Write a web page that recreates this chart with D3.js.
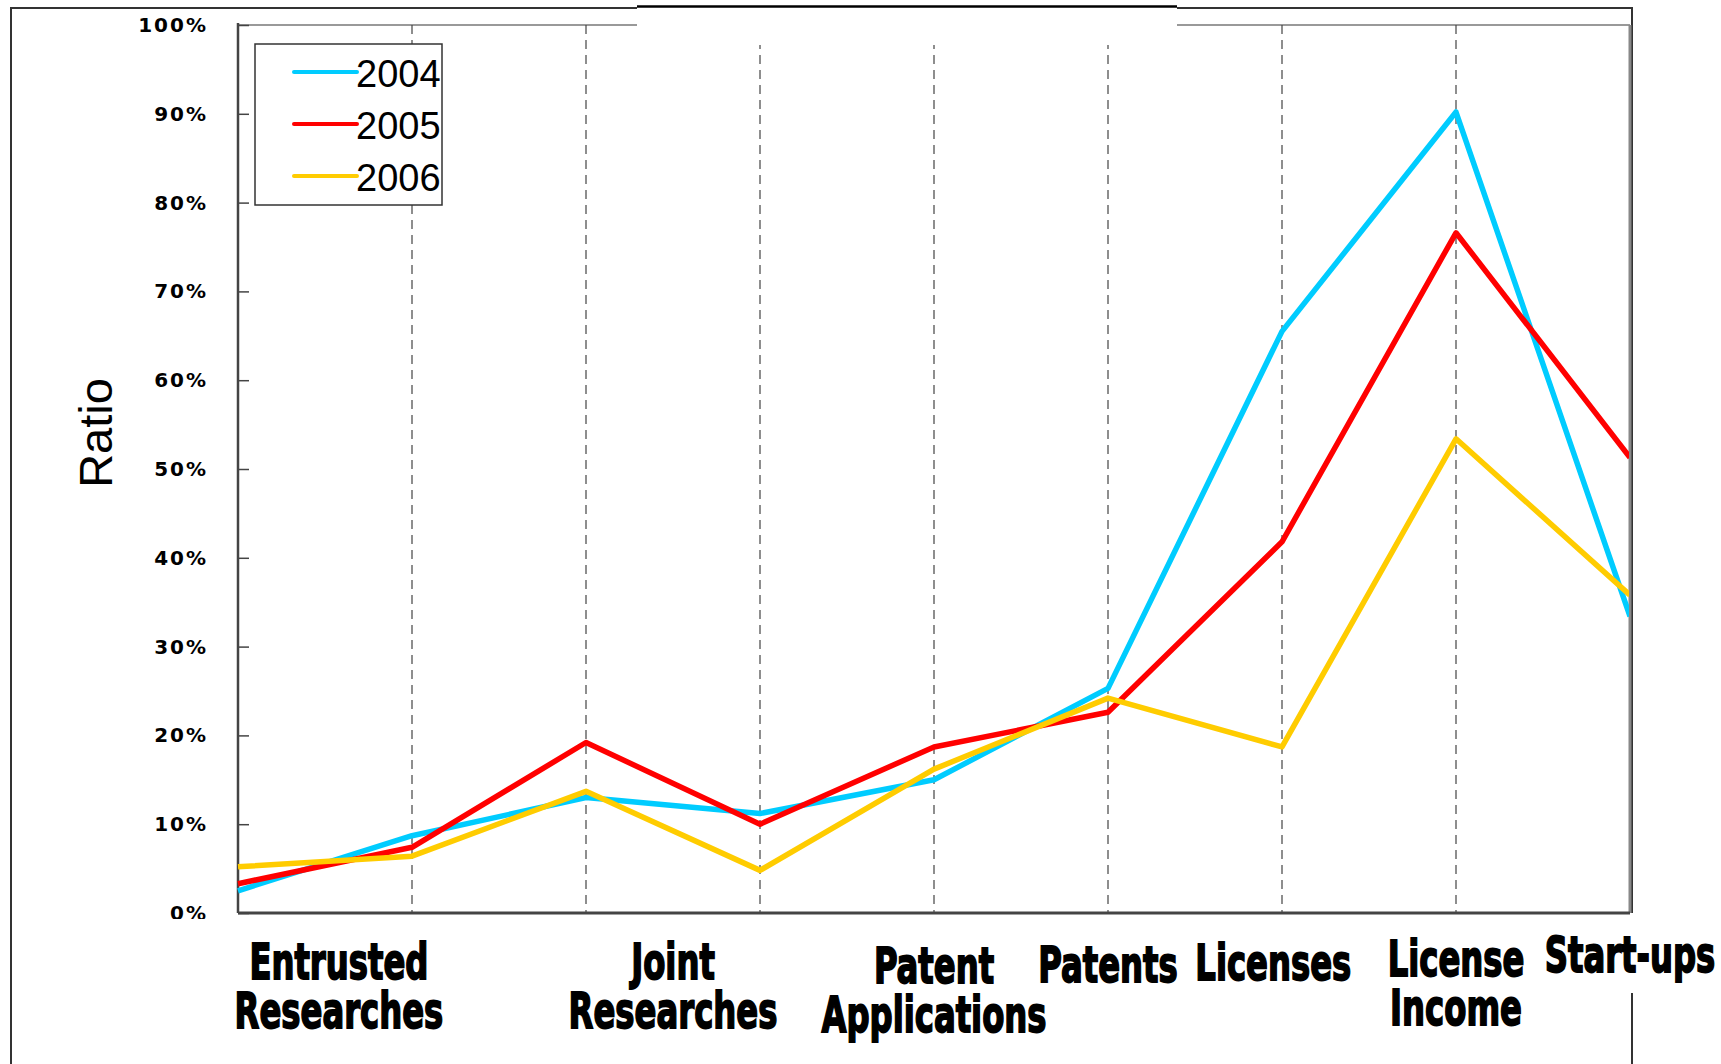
<!DOCTYPE html>
<html>
<head>
<meta charset="utf-8">
<script src="https://cdn.jsdelivr.net/npm/d3@7"></script>
<style>
  body { margin: 0; background: #fff; }
  svg { display: block; }
</style>
</head>
<body>
<svg></svg>
<script>
(function (d3) {
  'use strict';

  // categories under the x axis (two lines where the label wraps)
  var categories = [
    ["Entrusted", "Researches"],
    ["Joint", "Researches"],
    ["Patent", "Applications"],
    ["Patents"],
    ["Licenses"],
    ["License", "Income"],
    ["Start-ups"]
  ];
  // slot on the point scale where each label sits
  var labelSlot = [0.58, 2.5, 4, 5, 5.95, 7, 8];
  var labelDy = [0, 0, 4, 3, 1, -3, -7];

  var years = ["2004", "2005", "2006"];
  var colors = ["#00ccff", "#ff0000", "#ffcc00"];

  // ratio per point (9 points along the x axis)
  var v2004 = [0.025, 0.087, 0.130, 0.112, 0.150, 0.253, 0.655, 0.902, 0.334];
  var v2005 = [0.033, 0.074, 0.192, 0.100, 0.187, 0.226, 0.418, 0.766, 0.513];
  var v2006 = [0.052, 0.064, 0.137, 0.048, 0.162, 0.242, 0.187, 0.534, 0.358];
  var series = [v2004, v2005, v2006];

  var yTicks = [0, 0.1, 0.2, 0.3, 0.4, 0.5, 0.6, 0.7, 0.8, 0.9, 1];

  var width = 1721, height = 1064,
      left = 238, right = 1630, top = 25, bottom = 913;

  var svg = d3.select("svg")
    .attr("width", width)
    .attr("height", height);

  var x = d3.scaleLinear().domain([0, 8]).range([left, right]);
  var y = d3.scaleLinear().domain([0, 1]).range([bottom, top]);

  // outer frame
  svg.append("path")
    .attr("d", "M11,1064V8H1632V" + bottom + "M1632,993V1064")
    .attr("fill", "none")
    .attr("stroke", "#333")
    .attr("stroke-width", 2);

  // plot border top / right
  svg.append("line")
    .attr("x1", left).attr("x2", right).attr("y1", top).attr("y2", top)
    .attr("stroke", "#999").attr("stroke-width", 2);
  svg.append("line")
    .attr("x1", right).attr("x2", right).attr("y1", top).attr("y2", bottom)
    .attr("stroke", "#888").attr("stroke-width", 3);

  // dashed verticals
  svg.append("g").selectAll("line")
    .data(d3.range(1, 8))
    .enter().append("line")
      .attr("x1", function (d) { return x(d); })
      .attr("x2", function (d) { return x(d); })
      .attr("y1", top)
      .attr("y2", bottom)
      .attr("stroke", "#444")
      .attr("stroke-width", 1.2)
      .attr("stroke-dasharray", "9,6");

  // white patch at the top of the plot
  svg.append("rect")
    .attr("x", 637).attr("y", 7).attr("width", 540).attr("height", 38)
    .attr("fill", "#fff");
  svg.append("line")
    .attr("x1", 637).attr("x2", 1177).attr("y1", 6.5).attr("y2", 6.5)
    .attr("stroke", "#000").attr("stroke-width", 2.5);

  // clip so the 0% label is cut at the axis like the original
  svg.append("clipPath").attr("id", "tickclip")
    .append("rect").attr("x", -left).attr("y", 0).attr("width", left + 20).attr("height", bottom + 6);

  // y axis
  var yAxis = svg.append("g")
    .attr("transform", "translate(" + left + ",0)")
    .attr("clip-path", "url(#tickclip)")
    .call(d3.axisLeft(y)
      .tickValues(yTicks)
      .tickFormat(d3.format(".0%"))
      .tickSize(-11)
      .tickPadding(30));
  yAxis.select(".domain").remove();
  yAxis.selectAll(".tick line").attr("stroke", "#444").attr("stroke-width", 1.5);
  yAxis.selectAll(".tick text")
    .attr("font-family", "'DejaVu Sans', sans-serif")
    .attr("font-weight", "bold")
    .attr("font-size", 20)
    .attr("letter-spacing", 2)
    .attr("fill", "#000");

  svg.append("line")
    .attr("x1", left).attr("x2", left).attr("y1", top - 2).attr("y2", bottom)
    .attr("stroke", "#444").attr("stroke-width", 2.5);

  // x axis baseline
  svg.append("line")
    .attr("x1", left).attr("x2", right).attr("y1", bottom).attr("y2", bottom)
    .attr("stroke", "#444").attr("stroke-width", 3);

  // lines
  var line = d3.line()
    .x(function (d, i) { return x(i); })
    .y(function (d) { return y(d); });

  svg.append("clipPath").attr("id", "plotclip")
    .append("rect").attr("x", left - 5).attr("y", 0).attr("width", right - left + 4).attr("height", bottom);

  svg.append("g").attr("clip-path", "url(#plotclip)")
    .selectAll("path")
    .data(series)
    .enter().append("path")
      .attr("d", line)
      .attr("fill", "none")
      .attr("stroke", function (d, i) { return colors[i]; })
      .attr("stroke-width", 5.5)
      .attr("stroke-linejoin", "round");

  // y title
  svg.append("text")
    .attr("transform", "translate(112,433) rotate(-90)")
    .attr("text-anchor", "middle")
    .attr("font-family", "'Liberation Sans', Arial, sans-serif")
    .attr("font-size", 47)
    .attr("fill", "#000")
    .text("Ratio");

  // category labels
  var labels = svg.append("g").selectAll("text")
    .data(categories)
    .enter().append("text")
      .attr("text-anchor", "middle")
      .attr("font-family", "'DejaVu Sans Condensed', 'DejaVu Sans', sans-serif")
      .attr("font-weight", "bold")
      .attr("font-size", 46)
      .attr("stroke", "#000")
      .attr("stroke-width", 1.6)
      .attr("fill", "#000")
      .attr("transform", function (d, i) {
        return "translate(" + x(labelSlot[i]) + "," + (979 + labelDy[i]) + ") scale(0.78,1.1)";
      });
  labels.selectAll("tspan")
    .data(function (d) { return d; })
    .enter().append("tspan")
      .attr("x", 0)
      .attr("y", function (d, i) { return i * 44.5; })
      .text(function (d) { return d; });

  // legend
  var legend = svg.append("g");
  legend.append("rect")
    .attr("x", 255).attr("y", 44).attr("width", 187).attr("height", 161)
    .attr("fill", "#fff").attr("stroke", "#333").attr("stroke-width", 1.5);
  var item = legend.selectAll("g")
    .data(years)
    .enter().append("g")
      .attr("transform", function (d, i) { return "translate(0," + (72 + i * 52) + ")"; });
  item.append("line")
    .attr("x1", 294).attr("x2", 357)
    .attr("stroke", function (d, i) { return colors[i]; })
    .attr("stroke-width", 4)
    .attr("stroke-linecap", "round");
  item.append("text")
    .attr("x", 356)
    .attr("y", 15)
    .attr("font-family", "'Liberation Sans', Arial, sans-serif")
    .attr("font-size", 38)
    .attr("fill", "#000")
    .text(function (d) { return d; });

}(d3));
</script>
</body>
</html>
